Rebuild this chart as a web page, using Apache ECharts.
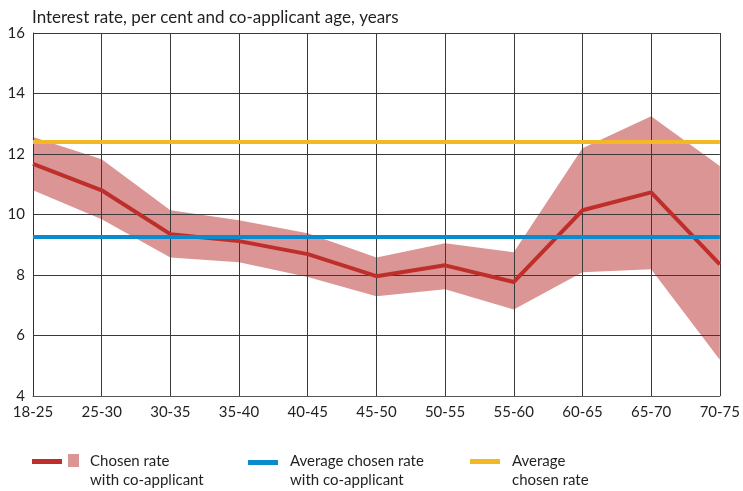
<!DOCTYPE html>
<html>
<head>
<meta charset="utf-8">
<script src="https://cdn.jsdelivr.net/npm/echarts@6/dist/echarts.min.js"></script>
<style>
  html, body { margin: 0; padding: 0; background: #fff; }
  #chart { width: 743px; height: 491px; }
</style>
</head>
<body>
<div id="chart"></div>
<script>
const categories = ['18-25', '25-30', '30-35', '35-40', '40-45', '45-50', '50-55', '55-60', '60-65', '65-70', '70-75']
const chosenRate = [11.67, 10.8, 9.35, 9.12, 8.69, 7.96, 8.32, 7.77, 10.14, 10.73, 8.35]
const bandUpper = [12.56, 11.83, 10.14, 9.81, 9.38, 8.58, 9.05, 8.75, 12.19, 13.25, 11.6]
const bandLower = [10.8, 9.84, 8.58, 8.42, 7.93, 7.3, 7.53, 6.86, 8.09, 8.19, 5.2]
const avgWithCoApplicant = 9.25
const avgChosen = 12.4
const yTicks = [4, 6, 8, 10, 12, 14, 16]

const FONT = 'Lato'
const RED = '#be2f2c'
const PINK = '#db9594'
const BLUE = '#0a8bcc'
const YELLOW = '#f4b824'
const TEXT = '#231f20'

const chart = echarts.init(document.getElementById('chart'))

// band height on top of the invisible lower edge
const bandSpan = bandUpper.map((u, i) => +(u - bandLower[i]).toFixed(2))

const legendText = (x, y, text) => ({
  type: 'text', left: x, top: y,
  style: { text: text, fill: TEXT, font: '15px ' + FONT, lineHeight: 19 },
})

chart.setOption({
  animation: false,
  textStyle: { fontFamily: FONT },
  title: {
    text: 'Interest rate, per cent and co-applicant age, years',
    left: 27, top: 4,
    textStyle: { fontSize: 17, fontWeight: 'normal', color: TEXT, fontFamily: FONT },
  },
  grid: { left: 33, right: 21, top: 33, bottom: 95 },
  xAxis: {
    type: 'category',
    data: categories,
    boundaryGap: false,
    axisLine: { lineStyle: { color: '#555', width: 1 } },
    axisTick: { show: false },
    axisLabel: { color: TEXT, fontSize: 15, margin: 9, fontFamily: FONT },
    splitLine: { show: true, lineStyle: { color: '#3a3a3a', width: 1 } },
  },
  yAxis: {
    type: 'value',
    min: yTicks[0], max: yTicks[yTicks.length - 1], interval: 2,
    axisLine: { show: true, lineStyle: { color: '#333', width: 1 } },
    axisTick: { show: false },
    axisLabel: { color: TEXT, fontSize: 15, margin: 8, fontFamily: FONT },
    splitLine: { show: true, lineStyle: { color: '#3a3a3a', width: 1 } },
  },
  series: [
    {
      name: 'lower', type: 'line', data: bandLower, stack: 'band',
      symbol: 'none', lineStyle: { opacity: 0 }, z: -1, silent: true,
    },
    {
      name: 'band', type: 'line', data: bandSpan, stack: 'band',
      symbol: 'none', lineStyle: { opacity: 0 },
      areaStyle: { color: PINK, opacity: 1 }, z: -1, silent: true,
    },
    {
      name: 'Chosen rate with co-applicant', type: 'line', data: chosenRate,
      symbol: 'none', lineStyle: { color: RED, width: 4 }, z: 3,
      markLine: {
        silent: true, symbol: 'none', label: { show: false },
        data: [
          { yAxis: avgWithCoApplicant, lineStyle: { color: BLUE, width: 4, type: 'solid' } },
          { yAxis: avgChosen, lineStyle: { color: YELLOW, width: 4, type: 'solid' } },
        ],
      },
    },
  ],
  graphic: [
    { type: 'rect', shape: { x: 32, y: 459, width: 30, height: 5 }, style: { fill: RED } },
    { type: 'rect', shape: { x: 68, y: 454, width: 11, height: 13 }, style: { fill: PINK } },
    legendText(90, 452, 'Chosen rate\nwith co-applicant'),
    { type: 'rect', shape: { x: 248, y: 460, width: 30, height: 5 }, style: { fill: BLUE } },
    legendText(290, 452, 'Average chosen rate\nwith co-applicant'),
    { type: 'rect', shape: { x: 470, y: 459, width: 30, height: 5 }, style: { fill: YELLOW } },
    legendText(512, 452, 'Average\nchosen rate'),
  ],
})
</script>
</body>
</html>
